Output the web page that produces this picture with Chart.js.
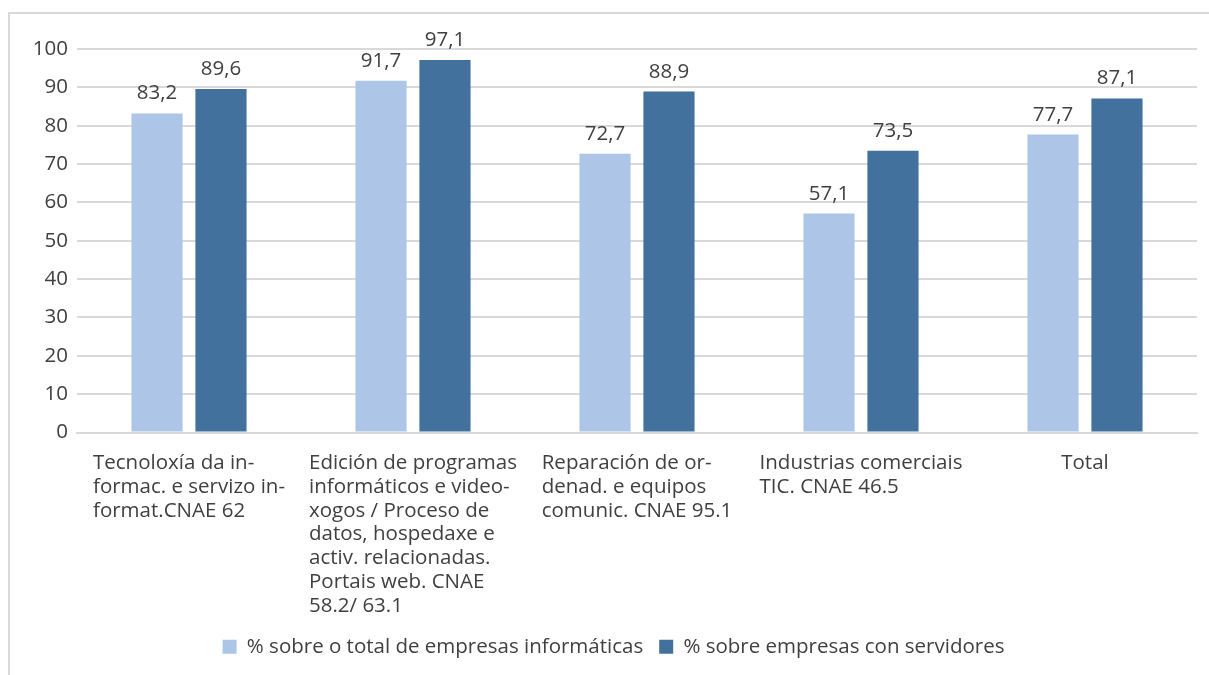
<!DOCTYPE html>
<html>
<head>
<meta charset="utf-8">
<script src="https://cdn.jsdelivr.net/npm/chart.js@4/dist/chart.umd.min.js"></script>
<style>
  body { margin: 0; background: #fff; }
  #frame { position: absolute; left: 8px; top: 12px; width: 1300px; height: 800px; border: 2px solid #d9d9d9; }
  #wrap { position: absolute; left: 0; top: 0; width: 1209px; height: 675px; }
</style>
</head>
<body>
<div id="frame"></div>
<div id="wrap"><canvas id="myChart" width="1209" height="675"></canvas></div>
<script>
const categories = [
    ['Tecnoloxía da in-', 'formac. e servizo in-', 'format.CNAE 62'],
    ['Edición de programas', 'informáticos e video-', 'xogos / Proceso de', 'datos, hospedaxe e', 'activ. relacionadas.', 'Portais web. CNAE', '58.2/ 63.1'],
    ['Reparación de or-', 'denad. e equipos', 'comunic. CNAE 95.1'],
    ['Industrias comerciais', 'TIC. CNAE 46.5'],
    ['Total']
];
const seriesNames = ['% sobre o total de empresas informáticas', '% sobre empresas con servidores'];
const totalEmpresas = [83.2, 91.7, 72.7, 57.1, 77.7];
const conServidores = [89.6, 97.1, 88.9, 73.5, 87.1];
const yTicks = [0, 10, 20, 30, 40, 50, 60, 70, 80, 90, 100];

const textColor = '#404040';
const fontFamily = '"Open Sans"';

// etiquetas do eixo x: bloque centrado, liñas aliñadas á esquerda
const xLabelsPlugin = {
    id: 'xLabels',
    afterDraw(chart) {
        const ctx = chart.ctx;
        const x = chart.scales.x;
        ctx.save();
        ctx.font = '20.5px ' + fontFamily;
        ctx.fillStyle = textColor;
        ctx.textAlign = 'left';
        ctx.textBaseline = 'alphabetic';
        categories.forEach((lines, i) => {
            const cx = x.getPixelForValue(i);
            const w = Math.max(...lines.map(l => ctx.measureText(l).width));
            lines.forEach((l, j) => {
                ctx.fillText(l, cx - w / 2, chart.chartArea.bottom + 36.5 + j * 23.8);
            });
        });
        ctx.restore();
    }
};

const valueLabelsPlugin = {
    id: 'valueLabels',
    afterDatasetsDraw(chart) {
        const ctx = chart.ctx;
        ctx.save();
        ctx.font = '20.5px ' + fontFamily;
        ctx.fillStyle = textColor;
        ctx.textAlign = 'center';
        ctx.textBaseline = 'alphabetic';
        chart.data.datasets.forEach((ds, d) => {
            chart.getDatasetMeta(d).data.forEach((bar, i) => {
                ctx.fillText(ds.data[i].toFixed(1).replace('.', ','), bar.x, bar.y - 14);
            });
        });
        ctx.restore();
    }
};

const data = {
    labels: categories.map(c => c.join(' ')),
    datasets: [
        {
            label: seriesNames[0],
            data: totalEmpresas,
            backgroundColor: '#adc5e7',
            categoryPercentage: 0.571,
            barPercentage: 0.8
        },
        {
            label: seriesNames[1],
            data: conServidores,
            backgroundColor: '#41719c',
            categoryPercentage: 0.571,
            barPercentage: 0.8
        }
    ]
};

const config = {
    type: 'bar',
    data: data,
    options: {
        responsive: false,
        animation: false,
        layout: {
            padding: { left: 30, right: 12, top: 49, bottom: 8 }
        },
        plugins: {
            legend: {
                position: 'bottom',
                labels: {
                    boxWidth: 14,
                    boxHeight: 14,
                    padding: 16,
                    color: textColor,
                    font: { family: fontFamily, size: 20.5 }
                }
            },
            tooltip: { enabled: false }
        },
        scales: {
            x: {
                grid: { display: false },
                border: { color: '#d9d9d9', width: 2 },
                ticks: { display: false },
                afterFit: (scale) => { scale.height = 188; }
            },
            y: {
                min: 0,
                max: 100,
                afterBuildTicks: (scale) => { scale.ticks = yTicks.map(v => ({ value: v })); },
                grid: { color: '#d9d9d9', lineWidth: 2, drawTicks: false },
                border: { display: false },
                ticks: {
                    padding: 9,
                    color: textColor,
                    font: { family: fontFamily, size: 20.5 }
                },
                afterFit: (scale) => { scale.width = 47; }
            }
        }
    },
    plugins: [xLabelsPlugin, valueLabelsPlugin]
};

const ctx = document.getElementById('myChart').getContext('2d');
new Chart(ctx, config);
</script>
</body>
</html>
